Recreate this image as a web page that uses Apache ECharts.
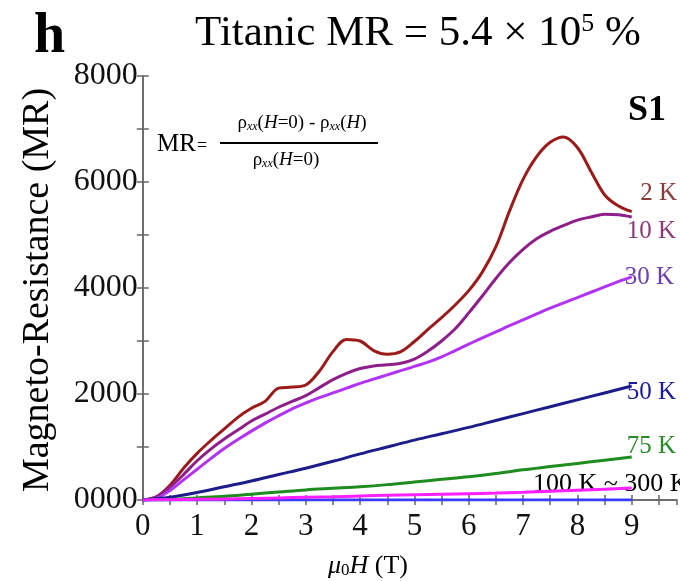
<!DOCTYPE html>
<html>
<head>
<meta charset="utf-8">
<script src="https://cdn.jsdelivr.net/npm/echarts@6/dist/echarts.min.js"></script>
<style>
html,body{margin:0;padding:0;background:#fff;}
#chart{width:680px;height:581px;}
</style>
</head>
<body>
<div id="chart"></div>
<script>
// field (T), fine grid for the low-T curves, coarse grid for the straight ones
var fieldFine = [0,0.25,0.5,0.75,1,1.25,1.5,1.75,2,2.25,2.5,2.75,3,3.25,3.5,3.75,4,4.25,4.5,4.75,5,5.25,5.5,5.75,6,6.25,6.5,6.75,7,7.25,7.5,7.75,8,8.25,8.5,8.75,9];
var fieldCoarse = [0,0.5,1,1.5,2,2.5,3,3.5,4,4.5,5,5.5,6,6.5,7,7.5,8,8.5,9];

var mr2K = [0,60,280,600,880,1120,1340,1560,1730,1860,2110,2130,2170,2430,2800,3030,3000,2820,2750,2800,2990,3220,3440,3680,3950,4300,4780,5450,6050,6480,6750,6850,6650,6200,5760,5550,5440];
var mr10K = [0,60,240,480,740,960,1150,1320,1490,1620,1750,1860,1970,2120,2270,2390,2480,2530,2550,2580,2660,2810,3000,3230,3530,3850,4180,4480,4730,4930,5070,5180,5280,5340,5390,5380,5340];
var mr30K = [0,30,180,380,580,780,970,1140,1300,1450,1590,1720,1830,1930,2020,2110,2200,2280,2360,2440,2520,2600,2700,2820,2940,3060,3170,3290,3400,3510,3620,3720,3820,3920,4020,4120,4210];
var mr50K = [0,50,140,250,360,480,600,730,870,1000,1130,1250,1370,1500,1630,1760,1890,2020,2150];
var mr75K = [0,10,40,70,110,150,190,220,250,290,340,390,440,500,570,630,690,750,810];
var mr100K = [0,5,12,20,30,40,50,60,75,90,100,110,120,130,145,165,185,205,225];
var mr300K = [0,0,0,0,0,0,0,0,0,0,0,0,0,0,0,0,0,0,0];

var curveNames = ['2 K','10 K','30 K','50 K','75 K','300 K','100 K'];
var curveColors = ['#9b1a1a','#8e1f8a','#b233f5','#1c1c8a','#1f8c1f','#3a3aff','#ff1fff'];

function pairs(xs, ys) {
  return xs.map(function (x, i) { return [x, ys[i]]; });
}

var serif = 'Liberation Serif';
var chart = echarts.init(document.getElementById('chart'));

var curves = [
  pairs(fieldFine, mr2K), pairs(fieldFine, mr10K), pairs(fieldFine, mr30K),
  pairs(fieldCoarse, mr50K), pairs(fieldCoarse, mr75K),
  pairs(fieldCoarse, mr300K), pairs(fieldCoarse, mr100K)
];

var axisLine = {show: true, lineStyle: {color: '#666', width: 1.5}};
var tick = function (len) {
  return {inside: true, length: len, lineStyle: {color: '#666', width: 1.5}};
};
var subRich = {
  s: {fontSize: 12, fontStyle: 'italic', fontFamily: serif, verticalAlign: 'bottom', padding: [7, 0, 0, 0]},
  i: {fontSize: 19, fontStyle: 'italic', fontFamily: serif}
};

chart.setOption({
  animation: false,
  backgroundColor: '#fff',
  grid: {left: 142.8, top: 76, width: 534, height: 424},
  xAxis: [{
    type: 'value', min: 0, max: 9.83, interval: 0.5,
    axisLine: axisLine, axisTick: tick(5), splitLine: {show: false},
    axisLabel: {
      margin: 11, color: '#111', fontFamily: serif, fontSize: 31,
      showMaxLabel: false,
      formatter: function (v) { return v % 1 === 0 ? String(v) : ''; }
    }
  }, {
    type: 'value', min: 0, max: 9.83, interval: 0.5, position: 'top',
    axisLine: axisLine, axisTick: tick(5), splitLine: {show: false},
    axisLabel: {show: false}
  }],
  yAxis: [{
    type: 'value', min: 0, max: 8000, interval: 1000,
    axisLine: axisLine, axisTick: tick(6), splitLine: {show: false},
    axisLabel: {
      margin: 5, color: '#111', fontFamily: serif, fontSize: 32,
      formatter: function (v) { return v % 2000 === 0 ? String(v).padStart(4, '0') : ''; }
    }
  }, {
    type: 'value', min: 0, max: 8000, interval: 1000, position: 'right',
    axisLine: axisLine, axisTick: tick(6), splitLine: {show: false},
    axisLabel: {show: false}
  }],
  series: curves.map(function (d, k) {
    return {
      name: curveNames[k], type: 'line', data: d,
      showSymbol: false, smooth: 0.35,
      lineStyle: {color: curveColors[k], width: 3},
      itemStyle: {color: curveColors[k]}
    };
  }),
  graphic: [
    {type: 'text', left: 34, top: 10, style: {text: 'h', font: 'bold 56px ' + serif, fill: '#000'}},
    {type: 'text', x: 418, y: 34, style: {
      text: 'Titanic MR = 5.4 × 10{sup|5} %', align: 'center', verticalAlign: 'middle',
      font: '43px ' + serif, fill: '#000',
      rich: {sup: {fontSize: 26, fontFamily: serif, verticalAlign: 'top', padding: [0, 0, 20, 0]}}
    }},
    {type: 'text', x: 628, y: 111, style: {text: 'S1', font: 'bold 36px ' + serif, fill: '#000', verticalAlign: 'middle'}},
    // MR definition
    {type: 'text', x: 157, y: 144, style: {text: 'MR', font: '25px ' + serif, fill: '#000', verticalAlign: 'middle'}},
    {type: 'text', x: 197, y: 146, style: {text: '=', font: '18px ' + serif, fill: '#000', verticalAlign: 'middle'}},
    {type: 'text', x: 302, y: 123, style: {
      text: 'ρ{s|xx}(' + '{i|H}=0) - ρ{s|xx}({i|H})', align: 'center', verticalAlign: 'middle',
      font: '19px ' + serif, fill: '#000', rich: subRich
    }},
    {type: 'line', shape: {x1: 220, y1: 143, x2: 378, y2: 143}, style: {stroke: '#000', lineWidth: 2}},
    {type: 'text', x: 286, y: 160, style: {
      text: 'ρ{s|xx}({i|H}=0)', align: 'center', verticalAlign: 'middle',
      font: '19px ' + serif, fill: '#000', rich: subRich
    }},
    // curve labels
    {type: 'text', x: 677, y: 193, style: {text: '2 K', align: 'right', verticalAlign: 'middle', font: '25px ' + serif, fill: '#8b3a3a'}},
    {type: 'text', x: 676, y: 231, style: {text: '10 K', align: 'right', verticalAlign: 'middle', font: '25px ' + serif, fill: '#8e3a78'}},
    {type: 'text', x: 674, y: 277, style: {text: '30 K', align: 'right', verticalAlign: 'middle', font: '25px ' + serif, fill: '#6c3cb4'}},
    {type: 'text', x: 676, y: 392, style: {text: '50 K', align: 'right', verticalAlign: 'middle', font: '25px ' + serif, fill: '#1a1a9a'}},
    {type: 'text', x: 676, y: 446, style: {text: '75 K', align: 'right', verticalAlign: 'middle', font: '25px ' + serif, fill: '#2a8a2a'}},
    {type: 'text', x: 533, y: 484, style: {text: '100 K ~ 300 K', verticalAlign: 'middle', font: '26px ' + serif, fill: '#000'}},
    // axis titles
    {type: 'text', x: 38, y: 290, rotation: Math.PI / 2, style: {
      text: 'Magneto-Resistance (MR)', align: 'center', verticalAlign: 'middle', font: '38px ' + serif, fill: '#000'
    }},
    {type: 'text', x: 368, y: 566, style: {
      text: '{i|μ}{s|0}{i|H} (T)', align: 'center', verticalAlign: 'middle', font: '26px ' + serif, fill: '#000',
      rich: {i: {fontSize: 26, fontStyle: 'italic', fontFamily: serif}, s: {fontSize: 17, fontFamily: serif, verticalAlign: 'bottom', padding: [10, 0, 0, 0]}}
    }}
  ]
});
</script>
</body>
</html>
